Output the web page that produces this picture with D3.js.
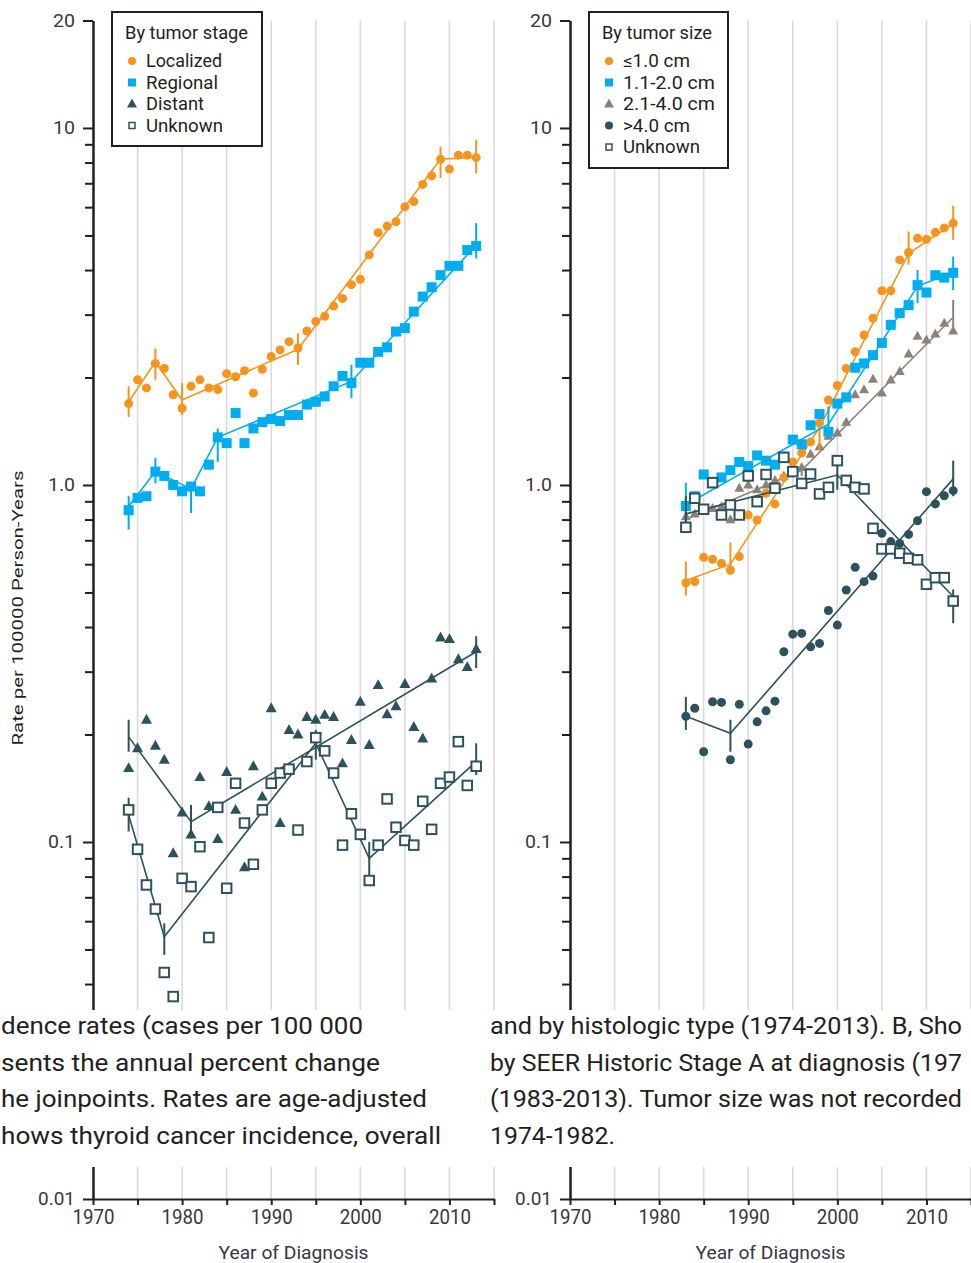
<!DOCTYPE html>
<html><head><meta charset="utf-8">
<script src="https://cdn.jsdelivr.net/npm/d3@7"></script>
<style>body{margin:0;background:#fff}svg{display:block}</style>
</head><body>
<svg id="c" width="971" height="1263"></svg>
<script>
// ---------- DATA ----------
const yearsA = d3.range(1974, 2014);   // panel A years
const yearsB = d3.range(1983, 2014);   // panel B years

// Panel A: by tumor stage
const localized = [1.69,1.97,1.87,2.19,2.12,1.79,1.64,1.89,1.97,1.87,
                   1.85,2.05,2.01,2.09,1.81,2.11,2.29,2.39,2.52,2.42,
                   2.70,2.87,2.97,3.17,3.33,3.64,3.77,4.41,5.09,5.31,
                   5.46,6.02,6.22,6.95,7.35,8.17,7.67,8.39,8.39,8.26];
const regional  = [0.85,0.92,0.93,1.09,1.06,1.00,0.96,0.99,0.96,1.14,
                   1.36,1.31,1.59,1.31,1.44,1.50,1.53,1.51,1.57,1.57,
                   1.68,1.71,1.77,1.89,2.02,1.93,2.20,2.20,2.36,2.43,
                   2.69,2.75,3.06,3.37,3.58,3.87,4.11,4.11,4.55,4.67];
const distant   = [0.161,0.183,0.220,0.186,0.170,0.093,0.121,0.105,0.152,0.126,
                   0.102,0.157,0.123,0.085,0.163,0.134,0.237,0.113,0.206,0.200,
                   0.224,0.220,0.227,0.224,0.166,0.193,0.247,0.187,0.275,0.228,
                   0.240,0.277,0.210,0.195,0.287,0.374,0.370,0.325,0.309,0.347];
const unknownA  = [0.123,0.0954,0.0758,0.0649,0.0431,0.0369,0.0791,0.075,0.097,0.054,
                   0.125,0.0742,0.146,0.113,0.0866,0.123,0.146,0.156,0.160,0.108,
                   0.168,0.196,0.180,0.156,0.098,0.120,0.105,0.078,0.098,0.132,
                   0.110,0.101,0.098,0.130,0.1085,0.146,0.152,0.191,0.144,0.163];

// Joinpoint fits (year, fitted rate, CI low, CI high)
const locFitYears = [1974,1977,1980,1993,2009,2013];
const locFit      = [1.71,2.21,1.73,2.40,8.17,8.28];
const locLo       = [1.55,1.97,1.57,2.17,7.24,7.46];
const locHi       = [1.89,2.41,1.93,2.66,8.87,9.27];
const regFitYears = [1974,1977,1981,1984,1999,2013];
const regFit      = [0.87,1.09,0.975,1.36,1.95,4.70];
const regLo       = [0.75,1.01,0.835,1.16,1.75,4.31];
const regHi       = [0.93,1.19,1.02,1.44,2.17,5.41];
const disFitYears = [1974,1981,2013];
const disFit      = [0.197,0.114,0.341];
const disLo       = [0.179,0.1024,0.307];
const disHi       = [0.220,0.127,0.377];
const unkAFitYears= [1974,1978,1995,2001,2013];
const unkAFit     = [0.119,0.0543,0.189,0.090,0.168];
const unkALo      = [0.107,0.0483,0.170,0.078,0.154];
const unkAHi      = [0.133,0.0592,0.206,0.100,0.189];

// Panel B: by tumor size
const sizeLe1  = [0.532,0.536,0.627,0.619,0.603,0.578,0.630,0.824,0.798,0.948,
                  0.885,1.05,1.16,1.23,1.32,1.49,1.73,1.90,2.12,2.36,
                  2.63,2.93,3.50,3.50,4.27,4.48,4.91,4.88,5.10,5.25,5.41];
const size1to2 = [0.873,0.93,1.07,1.02,1.05,1.10,1.16,1.13,1.21,1.17,
                  1.14,1.20,1.34,1.30,1.47,1.58,1.41,1.69,1.76,2.13,
                  2.19,2.31,2.50,2.81,3.03,3.19,3.63,3.46,3.87,3.81,3.93];
const size2to4 = [0.815,0.83,0.85,0.86,0.87,0.80,0.98,1.00,0.97,1.00,
                  1.03,1.06,1.09,1.12,1.22,1.28,1.37,1.40,1.50,1.79,
                  1.85,1.98,1.81,1.97,2.08,2.33,2.61,2.55,2.65,2.84,2.70];
const sizeGt4  = [0.225,0.237,0.179,0.247,0.246,0.170,0.243,0.188,0.217,0.233,
                  0.248,0.341,0.382,0.384,0.352,0.360,0.445,0.405,0.508,0.588,
                  0.536,0.556,0.732,0.694,0.686,0.727,0.794,0.958,0.885,0.933,0.964];
const unknownB = [0.761,0.918,0.855,1.015,0.824,0.879,0.824,1.06,0.898,1.07,
                  0.979,1.195,1.09,1.01,1.073,0.944,0.985,1.17,1.03,0.985,
                  0.975,0.756,0.662,0.662,0.644,0.623,0.617,0.527,0.55,0.55,0.473];

const le1FitYears = [1983,1988,1998,2008,2013];
const le1Fit      = [0.54,0.60,1.45,4.45,5.40];
const le1Lo       = [0.49,0.56,1.25,4.14,4.86];
const le1Hi       = [0.61,0.69,1.62,5.13,6.05];
const s12FitYears = [1983,1999,2009,2013];
const s12Fit      = [0.88,1.48,3.60,3.95];
const s12Lo       = [0.76,1.38,3.23,3.51];
const s12Hi       = [1.015,1.66,4.00,4.36];
const s24FitYears = [1983,1996,2013];
const s24Fit      = [0.80,1.10,2.95];
const s24Lo       = [0.75,1.06,2.65];
const s24Hi       = [0.86,1.14,3.30];
const gt4FitYears = [1983,1988,2013];
const gt4Fit      = [0.225,0.2016,1.04];
const gt4Lo       = [0.206,0.179,0.93];
const gt4Hi       = [0.255,0.220,1.17];
const unkBFitYears= [1983,2000,2013];
const unkBFit     = [0.83,1.066,0.487];
const unkBLo      = [0.74,0.97,0.41];
const unkBHi      = [0.93,1.20,0.51];

// Axes
const yMajorTicks  = [0.01, 0.1, 1, 10, 20];
const yMajorLabels = ["0.01", "0.1", "1.0", "10", "20"];
const yMinorTicks  = [0.02,0.03,0.04,0.05,0.06,0.07,0.08,0.09,
                      0.2,0.3,0.4,0.5,0.6,0.7,0.8,0.9,
                      2,3,4,5,6,7,8,9];
const xTicks      = [1970,1975,1980,1985,1990,1995,2000,2005,2010,2015];
const xLabels     = [1970,1980,1990,2000,2010];
const gridYears   = [1975,1980,1985,1990,1995,2000,2005,2010,2015];

const captionLeft  = ["dence rates (cases per 100 000",
                      "sents the annual percent change",
                      "he joinpoints. Rates are age-adjusted",
                      "hows thyroid cancer incidence, overall"];
const captionRight = ["and by histologic type (1974-2013). B, Sho",
                      "by SEER Historic Stage A at diagnosis (197",
                      "(1983-2013). Tumor size was not recorded",
                      "1974-1982."];

// ---------- STYLE ----------
const ORANGE="#F7941D", BLUE="#00AEEF", SLATE="#2E525B", TAUPE="#8C8279",
      INK="#231F20", GRID="#DADADA";
const FONT = "'Liberation Sans Narrow','Arial Narrow','Roboto',sans-serif";

const svg = d3.select("#c");
svg.append("rect").attr("width",971).attr("height",1263).attr("fill","#fff");

const y = d3.scaleLog().domain([0.01, 20]).range([1199, 20.5]);
const yLabel = new Map(yMajorTicks.map((v,i)=>[v, yMajorLabels[i]]));
const yLabelW = {"0.01":37, "0.1":27, "1.0":27, "10":22, "20":22};

function marker(g, shape, cx, cy, color, s) {
  if (shape === "circle") {
    g.append("circle").attr("cx",cx).attr("cy",cy).attr("r",s/2).attr("fill",color);
  } else if (shape === "square") {
    g.append("rect").attr("x",cx-s/2).attr("y",cy-s/2).attr("width",s).attr("height",s).attr("fill",color);
  } else if (shape === "triangle") {
    const h = s*0.9;
    g.append("path").attr("d",`M${cx},${cy-h*0.6}L${cx+s/2},${cy+h*0.4}L${cx-s/2},${cy+h*0.4}Z`).attr("fill",color);
  } else if (shape === "open") {
    g.append("rect").attr("x",cx-s/2).attr("y",cy-s/2).attr("width",s).attr("height",s)
      .attr("fill","#fff").attr("stroke",color).attr("stroke-width",s>8?2:1.5);
  }
}

function drawPanel(x0, x1, years, seriesList, legend) {
  const x = d3.scaleLinear().domain([1970, 2015]).range([x0, x1]);
  const g = svg.append("g");

  // gridlines
  g.append("g").selectAll("line").data(gridYears).join("line")
    .attr("x1", d=>x(d)).attr("x2", d=>x(d))
    .attr("y1", y(20)).attr("y2", y(0.01))
    .attr("stroke", GRID).attr("stroke-width", 1.6);

  // y axis: minor ticks
  const yMin = g.append("g").attr("transform", `translate(${x0},0)`)
    .call(d3.axisLeft(y).tickValues(yMinorTicks).tickSize(8).tickSizeOuter(0).tickFormat(""));
  // y axis: major ticks + labels
  const yMaj = g.append("g").attr("transform", `translate(${x0},0)`)
    .call(d3.axisLeft(y).tickValues(yMajorTicks).tickSize(10).tickSizeOuter(0).tickPadding(8)
      .tickFormat(d => yLabel.get(d)));
  [yMin, yMaj].forEach(a => {
    a.selectAll("path,line").attr("stroke", INK).attr("stroke-width", 2);
  });
  yMaj.selectAll("text").attr("font-family", FONT).attr("font-size", 18).attr("fill", "#3b3445")
    .attr("textLength", d => yLabelW[yLabel.get(d)]).attr("lengthAdjust","spacingAndGlyphs");

  // x axis
  const xa = g.append("g").attr("transform", `translate(0,${y(0.01)})`)
    .call(d3.axisBottom(x).tickValues(xTicks).tickSize(6).tickSizeOuter(0)
      .tickFormat(d => xLabels.includes(d) ? String(d) : ""));
  xa.selectAll("path,line").attr("stroke", INK).attr("stroke-width", 2);
  xa.selectAll("text").attr("font-family", FONT).attr("font-size", 20).attr("fill", "#3b3445")
    .attr("y", 18).attr("dy", "0.36em")
    .attr("textLength", d => xLabels.includes(d) ? 42 : null).attr("lengthAdjust","spacingAndGlyphs");

  g.append("text").attr("x", (x0+x1)/2).attr("y", 1259).attr("text-anchor","middle")
    .attr("font-family", FONT).attr("font-size", 19).attr("fill", "#3b3445")
    .attr("textLength", 150).attr("lengthAdjust","spacingAndGlyphs")
    .text("Year of Diagnosis");

  // series
  const line = d3.line().x(d => x(d[0])).y(d => y(d[1]));
  seriesList.forEach(s => {
    const sg = g.append("g");
    const fitPts = s.fitYears.map((yr,i) => [yr, s.fit[i]]);
    sg.append("path").attr("d", line(fitPts)).attr("fill","none")
      .attr("stroke", s.color).attr("stroke-width", 1.6);
    s.fitYears.forEach((yr,i) => {
      sg.append("line").attr("x1", x(yr)).attr("x2", x(yr))
        .attr("y1", y(s.lo[i])).attr("y2", y(s.hi[i]))
        .attr("stroke", s.color).attr("stroke-width", 2);
    });
    s.vals.forEach((v,i) => marker(sg, s.shape, x(years[i]), y(v), s.color, s.size));
  });

  // legend
  const lg = g.append("g");
  lg.append("rect").attr("x", legend.x).attr("y", legend.y).attr("width", legend.w).attr("height", legend.h)
    .attr("fill","#fff").attr("stroke", INK).attr("stroke-width", 2);
  lg.append("text").attr("x", legend.x+13).attr("y", legend.y+27)
    .attr("font-family", FONT).attr("font-size", 18).attr("fill", INK)
    .attr("textLength", legend.titleW).attr("lengthAdjust","spacingAndGlyphs")
    .text(legend.title);
  legend.items.forEach((it,i) => {
    const cy = legend.y + 49 + i*21.5;
    marker(lg, it.shape, legend.x+20, cy, it.color, it.ls);
    lg.append("text").attr("x", legend.x+34).attr("y", cy+6)
      .attr("font-family", FONT).attr("font-size", 18).attr("fill", INK)
      .attr("textLength", it.w).attr("lengthAdjust","spacingAndGlyphs")
      .text(it.label);
  });
}

drawPanel(93, 494, yearsA, [
  {vals: localized, fitYears: locFitYears, fit: locFit, lo: locLo, hi: locHi, color: ORANGE, shape: "circle", size: 9},
  {vals: regional,  fitYears: regFitYears, fit: regFit, lo: regLo, hi: regHi, color: BLUE,   shape: "square", size: 10},
  {vals: distant,   fitYears: disFitYears, fit: disFit, lo: disLo, hi: disHi, color: SLATE,  shape: "triangle", size: 11},
  {vals: unknownA,  fitYears: unkAFitYears, fit: unkAFit, lo: unkALo, hi: unkAHi, color: SLATE, shape: "open", size: 9.5}
], {x: 112, y: 12, w: 150, h: 134, title: "By tumor stage", titleW: 123, items: [
  {label: "Localized", shape: "circle",   color: ORANGE, ls: 8,  w: 76},
  {label: "Regional",  shape: "square",   color: BLUE,   ls: 8,  w: 72},
  {label: "Distant",   shape: "triangle", color: SLATE,  ls: 10, w: 58},
  {label: "Unknown",   shape: "open",     color: SLATE,  ls: 6,  w: 77}
]});

drawPanel(570, 971, yearsB, [
  {vals: size2to4, fitYears: s24FitYears, fit: s24Fit, lo: s24Lo, hi: s24Hi, color: TAUPE, shape: "triangle", size: 10},
  {vals: sizeLe1,  fitYears: le1FitYears, fit: le1Fit, lo: le1Lo, hi: le1Hi, color: ORANGE, shape: "circle", size: 9},
  {vals: size1to2, fitYears: s12FitYears, fit: s12Fit, lo: s12Lo, hi: s12Hi, color: BLUE, shape: "square", size: 10},
  {vals: sizeGt4,  fitYears: gt4FitYears, fit: gt4Fit, lo: gt4Lo, hi: gt4Hi, color: SLATE, shape: "circle", size: 9},
  {vals: unknownB, fitYears: unkBFitYears, fit: unkBFit, lo: unkBLo, hi: unkBHi, color: SLATE, shape: "open", size: 9.5}
], {x: 589, y: 12, w: 139, h: 156, title: "By tumor size", titleW: 110, items: [
  {label: "\u22641.0 cm",   shape: "circle",   color: ORANGE, ls: 8,  w: 67},
  {label: "1.1-2.0 cm",     shape: "square",   color: BLUE,   ls: 8,  w: 92},
  {label: "2.1-4.0 cm",     shape: "triangle", color: TAUPE,  ls: 10, w: 92},
  {label: ">4.0 cm",        shape: "circle",   color: SLATE,  ls: 8,  w: 67},
  {label: "Unknown",        shape: "open",     color: SLATE,  ls: 6,  w: 77}
]});

// y axis title (left panel)
svg.append("text").attr("transform", "translate(23,608) rotate(-90)")
  .attr("text-anchor","middle").attr("font-family", FONT).attr("font-size", 15).attr("fill", INK)
  .attr("textLength", 275).attr("lengthAdjust","spacingAndGlyphs")
  .text("Rate per 100000 Person-Years");

// caption overlay band
svg.append("rect").attr("x",0).attr("y",1010).attr("width",971).attr("height",157).attr("fill","#fff");
const capBase = [1034, 1071, 1107, 1144];
const capLeftW = [362, 379, 426, 440];
const capRightW = [472, 472, 472, 125];
captionLeft.forEach((t,i) => {
  svg.append("text").attr("x", 1).attr("y", capBase[i])
    .attr("font-family", FONT).attr("font-size", 24.5).attr("fill", INK)
    .attr("textLength", capLeftW[i]).attr("lengthAdjust","spacingAndGlyphs").text(t);
});
captionRight.forEach((t,i) => {
  svg.append("text").attr("x", 490).attr("y", capBase[i])
    .attr("font-family", FONT).attr("font-size", 24.5).attr("fill", INK)
    .attr("textLength", capRightW[i]).attr("lengthAdjust","spacingAndGlyphs").text(t);
});
</script>
</body></html>
